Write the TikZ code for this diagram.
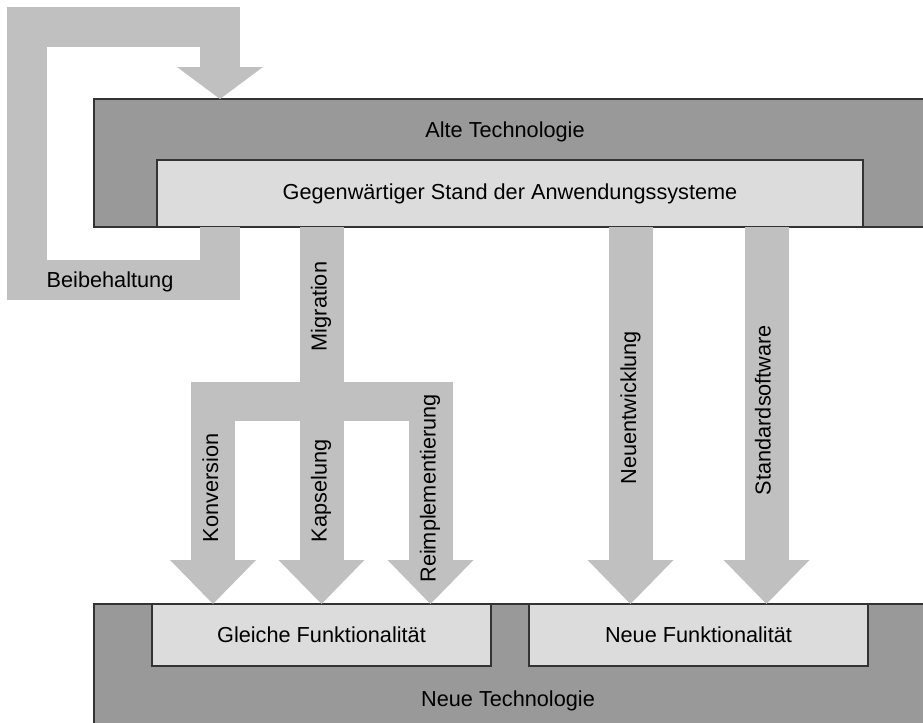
\documentclass[tikz,border=0pt]{standalone}
\usepackage{fontspec}
\setmainfont{Liberation Sans}
\usetikzlibrary{arrows.meta,positioning}
\definecolor{techgray}{HTML}{999999}
\definecolor{boxgray}{HTML}{DCDCDC}
\definecolor{flowgray}{HTML}{C0C0C0}
\newcommand{\diafont}{\fontsize{10.85}{13}\selectfont}
\tikzset{
	layer/.style={draw=black!80, line width=0.6pt, fill=techgray, inner sep=0pt, outer sep=0pt, anchor=north west},
	state/.style={draw=black!80, line width=0.6pt, fill=boxgray, inner sep=0pt, outer sep=0pt, anchor=north west, font=\diafont},
	txt/.style={inner sep=0pt, font=\diafont},
	vtxt/.style={txt, rotate=90, text height=0.72em, text depth=0.21em},
	shaft/.style={draw=flowgray, line width=22pt, line cap=butt, -{Triangle[width=43pt, length=22pt, line width=0pt]}},
	band/.style={draw=flowgray, line width=20pt, line cap=butt, line join=miter, -{Triangle[width=43pt, length=16pt, line width=0pt]}},
	fork/.style={draw=flowgray, line width=19.5pt, line cap=butt},
}
\begin{document}
\begin{tikzpicture}[x=0.5pt, y=-0.5pt]
	\useasboundingbox (0,0) rectangle (923,723);
	
	\node[layer, minimum width=415pt, minimum height=64pt] (alt) at (94,99) {};
	\node[state, minimum width=353pt, minimum height=33.5pt] (stand) at (157,160) {Gegenwärtiger Stand der Anwendungssysteme};
	\node[txt, anchor=base] (altlbl) at (505,137) {Alte Technologie};
	
	\node[layer, minimum width=415pt, minimum height=61pt] (neu) at (94,604) {};
	\node[state, minimum width=169.5pt, minimum height=31pt] (gleich) at (152,604) {Gleiche Funktionalität};
	\node[state, minimum width=169.5pt, minimum height=31pt] (neufkt) at (529,604) {Neue Funktionalität};
	\node[txt, anchor=base] (neulbl) at (508,706) {Neue Technologie};
	
	\coordinate (keep) at (220,0);
	\coordinate (konv) at (213,0);
	\coordinate (mig) at (321.5,0);
	\coordinate (reimp) at (430.5,0);
	\coordinate (entw) at (630.5,0);
	\coordinate (std) at (766.5,0);
	\coordinate (forkl) at (191,401.5);
	\coordinate (forkr) at (453,401.5);
	
	\draw[band] (alt.south -| keep) -- ++(0,52.5) -| (26.5,26.5) -| (alt.north -| keep);
	\node[txt, anchor=base] (keeplbl) at (110,287) {Beibehaltung};
	
	\draw[fork] (forkl) -- (forkr);
	\draw[shaft] (stand.south -| mig) -- (gleich.north -| mig);
	\draw[shaft] (forkl -| konv) ++(0,-19.5) -- (gleich.north -| konv);
	\draw[shaft] (forkr -| reimp) ++(0,-19.5) -- (gleich.north -| reimp);
	\draw[shaft] (stand.south -| entw) -- (neufkt.north -| entw);
	\draw[shaft] (stand.south -| std) -- (neufkt.north -| std);
	
	\node[vtxt] (miglbl) at (321.5,306.5) {Migration};
	\node[vtxt] (konvlbl) at (213,488) {Konversion};
	\node[vtxt] (kapslbl) at (321.5,491) {Kapselung};
	\node[vtxt] (reimplbl) at (430.5,488.5) {Reimplementierung};
	\node[vtxt] (entwlbl) at (631,407.5) {Neuentwicklung};
	\node[vtxt] (stdlbl) at (765.5,410) {Standardsoftware};
\end{tikzpicture}
\end{document}
